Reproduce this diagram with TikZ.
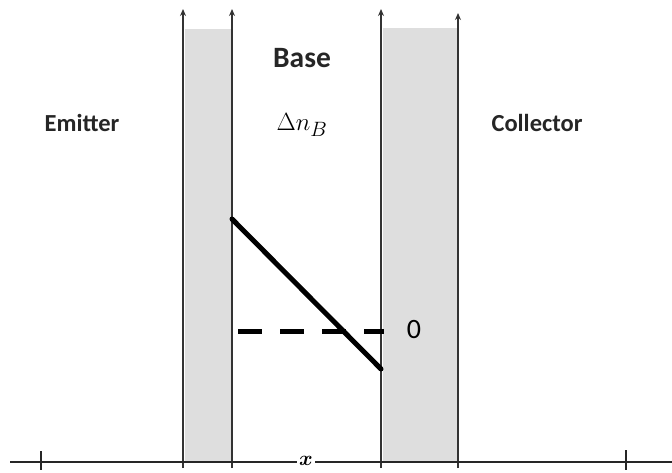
\documentclass[tikz,border=0pt]{standalone}
\usepackage{amsmath}
\usepackage{fontspec}
\setmainfont{Carlito}
\usetikzlibrary{arrows.meta}
\begin{document}
\begin{tikzpicture}[x=1pt,y=-1pt,
  vline/.style={line width=1.4pt, draw=black!80, -{Stealth[length=7pt,width=6pt]}},
  lbl/.style={font=\bfseries\fontsize{24.5}{28}\selectfont, text=black!85},
  region/.style={fill=black!13, draw=none}]
\useasboundingbox (0,0) rectangle (672,472);
% shaded regions
\fill[black!13] (185,29) rectangle (231,462);
\fill[black!13] (383,28) rectangle (457,462);
% vertical lines
\coordinate (b1) at (183,468); \coordinate (t1) at (183,9);
\coordinate (b2) at (232,468); \coordinate (t2) at (232,9);
\coordinate (b3) at (381,468); \coordinate (t3) at (381,9);
\coordinate (b4) at (458,468); \coordinate (t4) at (458,13);
\draw[vline] (b1) -- (t1);
\draw[vline] (b2) -- (t2);
\draw[vline] (b3) -- (t3);
\draw[vline] (b4) -- (t4);
% axis
\node[inner sep=2pt, font=\fontsize{20}{22}\selectfont] (x) at (306,461) {$\boldsymbol{x}$};
\coordinate (al) at (10,462); \coordinate (ar) at (672,462);
\draw[line width=1.6pt, black!85] (al) -- (x.west |- al);
\draw[line width=1.6pt, black!85] (x.east |- ar) -- (ar);
\coordinate (k1a) at (41,451); \coordinate (k1b) at (41,470);
\coordinate (k2a) at (626,450); \coordinate (k2b) at (626,470);
\draw[line width=1.2pt, black!85] (k1a) -- (k1b);
\draw[line width=1.2pt, black!85] (k2a) -- (k2b);
% labels
\node[lbl, font=\bfseries\fontsize{29.5}{32}\selectfont] (base) at (302,58) {Base};
\node[lbl] (emit) at (82,123) {Emitter};
\node[lbl] (coll) at (537,123) {Collector};
\node[font=\fontsize{27.5}{30}\selectfont] (dn) at (302,125) {$\Delta n_B$};
% profile
\coordinate (p1) at (232,219); \coordinate (p2) at (381,369);
\draw[line width=5pt, line cap=round] (p1) -- (p2);
\node[font=\fontsize{28}{30}\selectfont] (zero) at (414,330) {0};
\coordinate (d1) at (238,331); \coordinate (d2) at (384,331);
\draw[line width=5pt, dash pattern=on 24pt off 18pt] (d1) -- (d2);
\end{tikzpicture}
\end{document}
